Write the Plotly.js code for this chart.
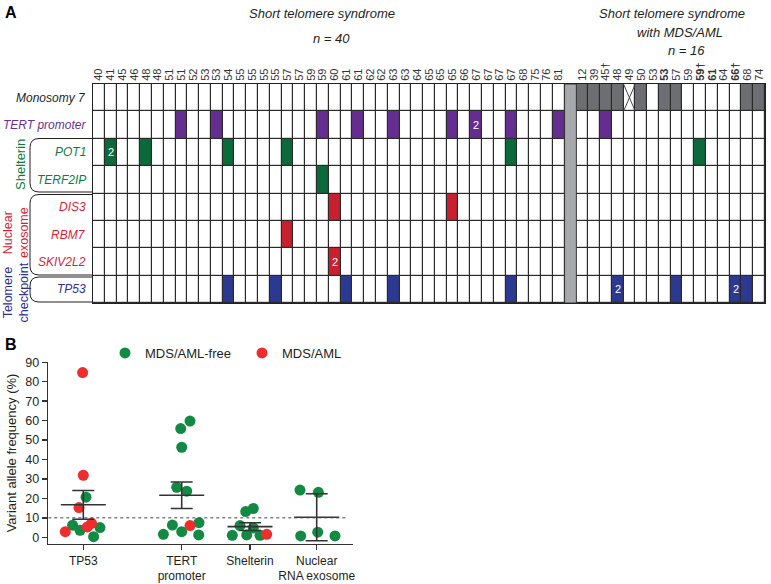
<!DOCTYPE html>
<html><head><meta charset="utf-8">
<script src="https://cdn.plot.ly/plotly-3.0.1.min.js"></script>
<style>html,body{margin:0;padding:0;background:#fff}</style>
</head><body><div id="chart" style="width:771px;height:584px"></div>
<script>
// ---------- Panel A data ----------
const stsAges = ['40','41','45','46','48','48','51','51','52','53','53','54','55','55','55','55','57','57','59','59','60','61','61','62','62','63','63','64','65','65','65','66','67','67','67','67','68','75','76','81'];
const mdsAges = ['12','39','45†','48','49','50','53','<b>53</b>','57','59','<b>59†</b>','<b>61</b>','64','<b>66†</b>','68','74'];
const geneRows = ['Monosomy 7','TERT promoter','POT1','TERF2IP','DIS3','RBM7','SKIV2L2','TP53'];
// column indices carrying each alteration (an index listed twice = 2 variants)
const monosomy7Sts = [];
const monosomy7Mds = [0,1,2,3,5,7,8,14,15];
const monosomy7MdsNA = [4];
const tertSts = [7,10,19,22,25,30,32,32,35,39];
const tertMds = [2];
const pot1Sts = [1,1,4,11,16,35];
const pot1Mds = [10];
const terf2ipSts = [19];
const terf2ipMds = [];
const dis3Sts = [20,30];
const dis3Mds = [];
const rbm7Sts = [16];
const rbm7Mds = [];
const skiv2l2Sts = [20,20];
const skiv2l2Mds = [];
const tp53Sts = [11,15,21,25,35];
const tp53Mds = [3,3,8,13,13,14];

// ---------- Panel B data ----------
const vafCategories = ['TP53','TERT<br>promoter','Shelterin','Nuclear<br>RNA exosome'];
const vafFree = [
  [6.2, 3.6, 20.6, 5.0, 0.3],
  [55.9, 59.8, 46.3, 25.7, 23.7, 6.3, 1.5, 2.9, 7.5, 1.2],
  [13.2, 14.8, 6.0, 1.0, 1.2, 4.8, 1.0],
  [24.3, 23.1, 0.7, 2.6, 0.7]
];
const vafAml = [
  [84.7, 31.9, 15.3, 2.9, 5.3, 7.2],
  [6.0],
  [1.5],
  []
];
const vafMean = [16.7, 21.6, 5.5, 10.3];
const vafErr = [7.4, 6.8, 2.0, 12.1];
const vafThreshold = 10;

// ---------- layout-only helpers ----------
const W = 771, H = 584;
const px = x => x / W, py = y => 1 - y / H;
const catPos = [35, 133.4, 201.7, 268.4];      // horizontal placement of categories (px units)
const jitFree = [
  [-10.7, -3.3, 2.7, 16.7, 10.3],
  [-1, 8.3, 0, -5, 5, -9.3, -18.3, 0, 17.3, 17],
  [-4.3, 3.3, -10, -17.7, -3.3, 3.3, 10],
  [-16.7, 1.7, -16, 1, 18.3]
];
const jitAml = [[-0.7, 0, -4.3, -18, 4, 8.3],[8.3],[16.7],[]];

const rowColor = ['#231f20','#6a2f8e','#0f7a3f','#0f7a3f','#d51f3a','#d51f3a','#d51f3a','#2e3192'];
const rowCode = [1,2,3,3,4,4,4,5];
const codeColors = ['#ffffff','#6d6e71','#662d91','#0b6a3a','#c8202f','#2b3990','#a7a9ac'];

const stsLists = [monosomy7Sts,tertSts,pot1Sts,terf2ipSts,dis3Sts,rbm7Sts,skiv2l2Sts,tp53Sts];
const mdsLists = [monosomy7Mds,tertMds,pot1Mds,terf2ipMds,dis3Mds,rbm7Mds,skiv2l2Mds,tp53Mds];

const nS = stsAges.length, nM = mdsAges.length;
const sepCol = nS;
const nCols = nS + 1 + nM;
const nRows = geneRows.length;
const z = [], txt = [];
for (let r = 0; r < nRows; r++) {
  const zr = new Array(nCols).fill(0), tr = new Array(nCols).fill('');
  const cnt = {};
  stsLists[r].forEach(c => { cnt[c] = (cnt[c]||0) + 1; });
  mdsLists[r].forEach(c => { const g = nS + 1 + c; cnt[g] = (cnt[g]||0) + 1; });
  Object.keys(cnt).forEach(k => { zr[k] = rowCode[r]; if (cnt[k] > 1) tr[k] = String(cnt[k]); });
  zr[sepCol] = 6;
  z.push(zr); txt.push(tr);
}
const colorscale = [];
codeColors.forEach((c,i) => { colorscale.push([i/7, c]); colorscale.push([(i+1)/7, c]); });

const tickvalsA = [], ticktextA = [];
for (let c = 0; c < nCols; c++) {
  tickvalsA.push(c);
  ticktextA.push(c < nS ? stsAges[c] : (c === sepCol ? '' : mdsAges[c - nS - 1]));
}

const FONT = 'Liberation Sans, Arial, sans-serif';
const traces = [];
traces.push({
  type: 'heatmap', z: z, text: txt, texttemplate: '%{text}',
  textfont: {color: '#ffffff', size: 11, family: FONT},
  x: [...Array(nCols).keys()], y: [...Array(nRows).keys()],
  colorscale: colorscale, zmin: -0.5, zmax: 6.5, showscale: false,
  xgap: 1.2, ygap: 1.2, hoverinfo: 'skip', xaxis: 'x', yaxis: 'y', showlegend: false
});
// crossed-out (not available) monosomy 7 cells
const xx = [], xy = [];
monosomy7MdsNA.forEach(c => {
  const g = nS + 1 + c;
  xx.push(g-0.5, g+0.5, null, g+0.5, g-0.5, null);
  xy.push(-0.5, 0.5, null, -0.5, 0.5, null);
});
traces.push({type:'scatter', mode:'lines', x: xx, y: xy, line:{color:'#444', width:1},
  hoverinfo:'skip', showlegend:false, xaxis:'x', yaxis:'y'});

// ---------- Panel B traces ----------
const fx = [], fy = [], ax = [], ay = [];
vafFree.forEach((arr,i) => arr.forEach((v,j) => { fx.push(catPos[i] + jitFree[i][j]); fy.push(v); }));
vafAml.forEach((arr,i) => arr.forEach((v,j) => { ax.push(catPos[i] + jitAml[i][j]); ay.push(v); }));
traces.push({type:'scatter', mode:'markers', name:'MDS/AML-free', x: fx, y: fy,
  marker:{color:'#138a44', size:11}, xaxis:'x2', yaxis:'y2', hoverinfo:'skip'});
traces.push({type:'scatter', mode:'markers', name:'MDS/AML', x: ax, y: ay,
  marker:{color:'#ee2d2d', size:11}, xaxis:'x2', yaxis:'y2', hoverinfo:'skip'});
const mx = [], my = [];
vafMean.forEach((m,i) => { mx.push(catPos[i]-22.5, catPos[i]+22.5, null); my.push(m, m, null); });
traces.push({type:'scatter', mode:'lines', x: mx, y: my, line:{color:'#333', width:1.6},
  xaxis:'x2', yaxis:'y2', showlegend:false, hoverinfo:'skip'});
traces.push({type:'scatter', mode:'markers', x: catPos, y: vafMean, marker:{opacity:0, size:1},
  error_y:{type:'data', array: vafErr, visible:true, color:'#333', thickness:1.6, width:11},
  xaxis:'x2', yaxis:'y2', showlegend:false, hoverinfo:'skip'});

// ---------- annotations & shapes ----------
const ann = [];
const A = (text, x, y, opt) => ann.push(Object.assign({text, x: px(x), y: py(y), xref:'paper', yref:'paper',
  xanchor:'center', yanchor:'middle', showarrow:false, font:{family:FONT, size:13, color:'#231f20'}}, opt||{}));
A('<b>A</b>', 3, 2, {xanchor:'left', yanchor:'top', font:{family:FONT, size:16, color:'#000'}});
A('<b>B</b>', 3, 334, {xanchor:'left', yanchor:'top', font:{family:FONT, size:16, color:'#000'}});
A('<i>Short telomere syndrome</i>', 322, 13);
A('<i>n = 40</i>', 331, 38);
A('<i>Short telomere syndrome</i>', 672, 13);
A('<i>with MDS/AML</i>', 680, 32);
A('<i>n = 16</i>', 686, 50);
geneRows.forEach((g,i) => ann.push({text:'<i>'+g+'</i>', x: px(88), y: i, xref:'paper', yref:'y',
  xanchor:'right', yanchor:'middle', showarrow:false, font:{family:FONT, size:12, color: rowColor[i]}}));
A('Shelterin', 21, 165, {textangle:-90, font:{family:FONT, size:13, color:'#0f7a3f'}});
A('Nuclear<br>exosome', 16, 233, {textangle:-90, font:{family:FONT, size:12.5, color:'#d51f3a'}});
A('Telomere<br>checkpoint', 15.5, 293, {textangle:-90, font:{family:FONT, size:12.5, color:'#2e3192'}});

const shapes = [];
// dark backdrop that shows through the heatmap gaps as cell borders
shapes.push({type:'rect', xref:'x', yref:'y', x0:-0.5, x1:nCols-0.5, y0:-0.5, y1:nRows-0.5,
  fillcolor:'#2a2a2a', line:{width:0}, layer:'below'});
function bracket(top, bottom) {
  const xv = 30, r = 9, xe = 93;
  const p = `M ${px(xe)},${py(top)} L ${px(xv+r)},${py(top)} Q ${px(xv)},${py(top)} ${px(xv)},${py(top+r)} ` +
            `L ${px(xv)},${py(bottom-r)} Q ${px(xv)},${py(bottom)} ${px(xv+r)},${py(bottom)} L ${px(xe)},${py(bottom)}`;
  shapes.push({type:'path', path:p, xref:'paper', yref:'paper', line:{color:'#231f20', width:1}});
}
bracket(138.5, 192);
bracket(194.5, 275);
bracket(277, 302);
// separator column between the two cohorts
shapes.push({type:'rect', xref:'x', yref:'y', x0: sepCol-0.5, x1: sepCol+0.5, y0:-0.5, y1: nRows-0.5,
  fillcolor:'#a7a9ac', line:{color:'#333', width:1}, layer:'above'});
// VAF 10% reference line
shapes.push({type:'line', xref:'x2', yref:'y2', x0:0, x1:300, y0:vafThreshold, y1:vafThreshold,
  line:{color:'#444', width:1, dash:'dot'}});

const layout = {
  width: W, height: H, margin:{l:0, r:0, t:0, b:0}, paper_bgcolor:'#fff', plot_bgcolor:'#fff',
  font:{family:FONT, color:'#231f20'},
  xaxis:{domain:[px(93), px(765)], range:[-0.5, nCols-0.5], side:'top', anchor:'y',
    tickvals: tickvalsA, ticktext: ticktextA, tickangle:-90, ticks:'', tickfont:{size:11, color:'#333'},
    showline:true, mirror:true, linecolor:'#222', linewidth:1, showgrid:false, zeroline:false, fixedrange:true},
  yaxis:{domain:[py(303), py(84)], range:[nRows-0.5, -0.5], anchor:'x', showticklabels:false,
    ticks:'', showline:true, mirror:true, linecolor:'#222', linewidth:1, showgrid:false, zeroline:false, fixedrange:true},
  xaxis2:{domain:[px(48.3), px(352.7)], range:[0, 304.4], anchor:'y2', tickvals: catPos, ticktext: vafCategories,
    tickangle:0, ticks:'outside', ticklen:5, tickwidth:1.5, tickcolor:'#333', tickfont:{size:12, color:'#231f20'},
    showline:true, linecolor:'#333', linewidth:1.6, showgrid:false, zeroline:false},
  yaxis2:{domain:[py(543.7), py(362.3)], range:[-3.3, 90], anchor:'x2', tickvals:[0,10,20,30,40,50,60,70,80,90],
    ticks:'outside', ticklen:5, tickwidth:1.5, tickcolor:'#333', tickfont:{size:12.5, color:'#231f20'},
    showline:true, linecolor:'#333', linewidth:1.6, showgrid:false, zeroline:false,
    title:{text:'Variant allele frequency (%)', font:{size:13, color:'#231f20'}, standoff:6}},
  showlegend:true,
  legend:{orientation:'h', x: px(105), y: py(338), xanchor:'left', yanchor:'top', font:{size:13, color:'#231f20'},
    bgcolor:'rgba(0,0,0,0)', entrywidth: 92},
  annotations: ann, shapes: shapes
};
Plotly.newPlot('chart', traces, layout, {staticPlot:true, displayModeBar:false});
</script></body></html>
